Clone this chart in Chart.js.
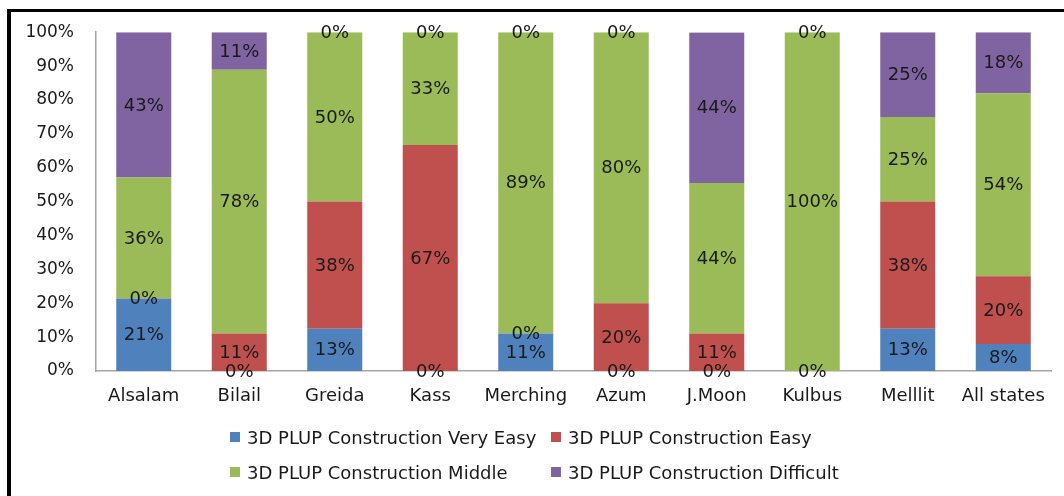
<!DOCTYPE html>
<html>
<head>
<meta charset="utf-8">
<script src="https://cdn.jsdelivr.net/npm/chart.js@4"></script>
<style>
  body { margin: 0; background: #fff; }
  #wrap { position: relative; width: 1064px; height: 496px; overflow: hidden; background: #fff; }
  #frame { position: absolute; left: 7px; top: 9px; width: 1100px; height: 600px;
           border-left: 4px solid #000; border-top: 3px solid #000; }
  canvas { position: absolute; left: 0; top: 0; }
  #legend { position: absolute; left: 230px; top: 426px; display: grid;
            grid-template-columns: 321px auto; row-gap: 13px;
            font: 18px "DejaVu Sans", sans-serif; color: #1a1a1a; }
  .item { display: flex; align-items: center; height: 22px; white-space: nowrap; }
  .box { width: 10px; height: 10px; margin-right: 7px; }
</style>
</head>
<body>
<div id="wrap">
  <div id="frame"></div>
  <canvas id="chart" width="1064" height="496"></canvas>
  <div id="legend"></div>
</div>
<script>
// --- data ---
const states = ["Alsalam", "Bilail", "Greida", "Kass", "Merching", "Azum", "J.Moon", "Kulbus", "Melllit", "All states"];
const veryEasy = [21.4, 0, 12.5, 0, 11.1, 0, 0, 0, 12.5, 8];
const easy = [0, 11.1, 37.5, 66.7, 0, 20, 11.1, null, 37.5, 20];
const middle = [35.7, 77.8, 50, 33.3, 88.9, 80, 44.4, 100, 25, 54];
const difficult = [42.9, 11.1, 0, 0, 0, 0, 44.4, 0, 25, 18];
const seriesNames = [
  "3D PLUP Construction Very Easy",
  "3D PLUP Construction Easy",
  "3D PLUP Construction Middle",
  "3D PLUP Construction Difficult",
];
const colors = ["#4f81bd", "#c0504d", "#9bbb59", "#8064a2"];

const FONT = "DejaVu Sans";
const TEXT = "#1a1a1a";

// value labels in the middle of each segment (zeros too)
const segmentLabels = {
  id: "segmentLabels",
  afterDatasetsDraw(chart) {
    const ctx = chart.ctx;
    ctx.save();
    ctx.font = "18px '" + FONT + "'";
    ctx.fillStyle = TEXT;
    ctx.textAlign = "center";
    ctx.textBaseline = "middle";
    chart.data.datasets.forEach((ds, i) => {
      const meta = chart.getDatasetMeta(i);
      meta.data.forEach((bar, j) => {
        const v = ds.data[j];
        if (v === null || v === undefined) return;
        ctx.fillText(Math.round(v) + "%", bar.x, (bar.y + bar.base) / 2 + 1);
      });
    });
    ctx.restore();
  },
};

const ctx = document.getElementById("chart").getContext("2d");
const chart = new Chart(ctx, {
  type: "bar",
  data: {
    labels: states,
    datasets: [veryEasy, easy, middle, difficult].map((d, i) => ({
      label: seriesNames[i],
      data: d,
      backgroundColor: colors[i],
      barPercentage: 0.576,
      categoryPercentage: 1,
    })),
  },
  options: {
    responsive: false,
    animation: false,
    layout: { padding: { left: 0, top: 32, right: 13, bottom: 75 } },
    plugins: { legend: { display: false }, tooltip: { enabled: false } },
    scales: {
      x: {
        stacked: true,
        grid: { display: false, drawTicks: false },
        border: { display: true, color: "#a6a6a6", width: 1.5 },
        ticks: { padding: 15, color: TEXT, font: { family: FONT, size: 18 }, maxRotation: 0 },
        afterFit: (s) => { s.height = 50; },
      },
      y: {
        stacked: true,
        min: 0,
        max: 100,
        grid: { display: false, drawTicks: false },
        border: { display: true, color: "#a6a6a6", width: 1.5 },
        ticks: {
          stepSize: 10,
          padding: 22,
          color: TEXT,
          font: { family: FONT, size: 17 },
          callback: (v) => v + "%",
        },
        afterFit: (s) => { s.width = 96; },
      },
    },
  },
  plugins: [segmentLabels],
});

// legend laid out in two aligned columns
const legend = document.getElementById("legend");
seriesNames.forEach((name, i) => {
  const item = document.createElement("div");
  item.className = "item";
  const box = document.createElement("span");
  box.className = "box";
  box.style.background = colors[i];
  item.appendChild(box);
  item.appendChild(document.createTextNode(name));
  legend.appendChild(item);
});
</script>
</body>
</html>
